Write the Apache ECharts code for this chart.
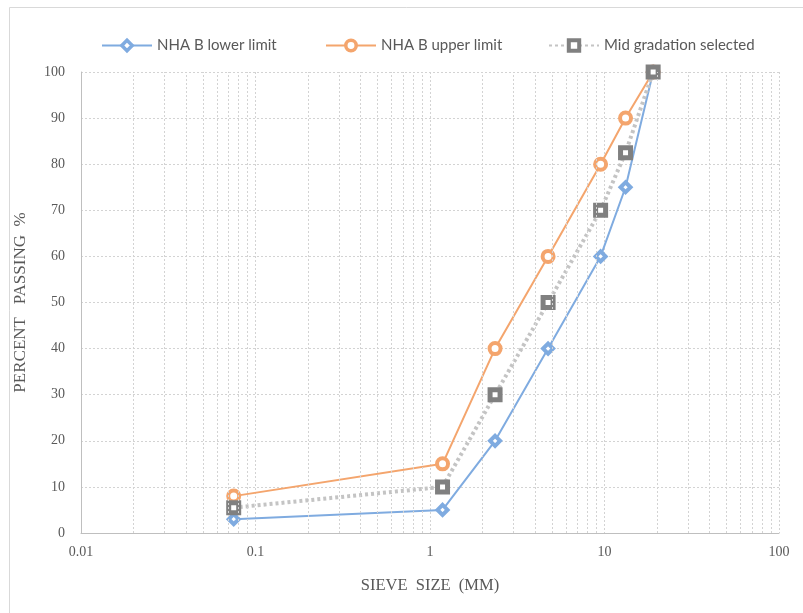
<!DOCTYPE html>
<html>
<head>
<meta charset="utf-8">
<script src="https://cdn.jsdelivr.net/npm/echarts@6/dist/echarts.min.js"></script>
<style>
  html, body { margin: 0; padding: 0; background: #fff; }
  #chart { width: 803px; height: 613px; }
</style>
</head>
<body>
<div id="chart"></div>
<script>
// Sieve sizes (mm) and percent passing for the NHA B gradation envelope
const sieveSizes = [0.075, 1.18, 2.36, 4.75, 9.5, 13.2, 19];
const lowerLimit = [3, 5, 20, 40, 60, 75, 100];
const upperLimit = [8, 15, 40, 60, 80, 90, 100];
const midGradation = [5.5, 10, 30, 50, 70, 82.5, 100];
const seriesNames = ['NHA B lower limit', 'NHA B upper limit', 'Mid gradation selected'];

// Minor log grid lines (2..9 in each decade)
const minorGridValues = [];
[0.01, 0.1, 1, 10].forEach(function (d) {
  for (let k = 2; k <= 9; k++) minorGridValues.push(+(d * k).toPrecision(3));
});

const pairs = (ys) => sieveSizes.map((x, i) => [x, ys[i]]);

const gridColor = '#d3d3d3';
const textColor = '#595959';
const serif = '"Liberation Serif", "DejaVu Serif", serif';
const sans = 'Lato, "Liberation Sans", Arial, sans-serif';

const blue = '#7fabe0';
const orange = '#f4a56d';
const grayLine = '#c4c4c4';
const grayMark = '#808080';

const chart = echarts.init(document.getElementById('chart'), null, { renderer: 'canvas' });

const legendBase = {
  top: 33,
  itemWidth: 50,
  itemHeight: 13,
  itemGap: 0,
  textStyle: { fontFamily: sans, fontSize: 15, color: textColor }
};

function legendItem(name, color, borderWidth) {
  return {
    name: name,
    itemStyle: { color: '#ffffff', borderColor: color, borderWidth: borderWidth }
  };
}

chart.setOption({
  backgroundColor: '#ffffff',
  animation: false,
  graphic: [{
    type: 'rect',
    shape: { x: 9.5, y: 7.5, width: 820, height: 640 },
    style: { fill: 'none', stroke: '#d9d9d9', lineWidth: 1 },
    silent: true
  }],
  legend: [
    Object.assign({}, legendBase, { left: 96, data: [legendItem(seriesNames[0], blue, 3.5)] }),
    Object.assign({}, legendBase, { left: 320, data: [legendItem(seriesNames[1], orange, 3.5)] }),
    Object.assign({}, legendBase, { left: 543, data: [legendItem(seriesNames[2], grayMark, 4)] })
  ],
  grid: { left: 81, right: 24, top: 72, bottom: 80, containLabel: false },
  xAxis: {
    type: 'log',
    logBase: 10,
    min: 0.01,
    max: 100,
    name: 'SIEVE  SIZE  (MM)',
    nameLocation: 'middle',
    nameGap: 44,
    nameTextStyle: { fontFamily: serif, fontSize: 16.5, color: textColor },
    axisLine: { show: true, lineStyle: { color: '#bfbfbf', width: 1 } },
    axisTick: { show: false },
    axisLabel: {
      fontFamily: serif, fontSize: 14, color: textColor, margin: 12,
      formatter: function (v) { return String(+v.toPrecision(3)); }
    },
    splitLine: { show: true, lineStyle: { color: gridColor, type: [2, 2], width: 1 } }
  },
  yAxis: {
    type: 'value',
    min: 0,
    max: 100,
    interval: 10,
    name: 'PERCENT   PASSING  %',
    nameLocation: 'middle',
    nameGap: 52,
    nameTextStyle: { fontFamily: serif, fontSize: 17, color: textColor },
    axisLine: { show: true, lineStyle: { color: '#bfbfbf', width: 1 } },
    axisTick: { show: false },
    axisLabel: { fontFamily: serif, fontSize: 14, color: textColor, margin: 16 },
    splitLine: { show: true, lineStyle: { color: gridColor, type: [2, 2], width: 1 } }
  },
  series: [
    {
      // carries the minor log grid lines
      type: 'line',
      data: [],
      silent: true,
      markLine: {
        silent: true,
        symbol: 'none',
        label: { show: false },
        lineStyle: { color: gridColor, type: [2, 2], width: 1 },
        emphasis: { disabled: true },
        data: minorGridValues.map(v => ({ xAxis: v }))
      },
      z: 1
    },
    {
      name: seriesNames[0],
      type: 'line',
      data: pairs(lowerLimit),
      symbol: 'diamond',
      symbolSize: 10,
      lineStyle: { color: blue, width: 2 },
      itemStyle: { color: '#ffffff', borderColor: blue, borderWidth: 4 },
      z: 3
    },
    {
      name: seriesNames[1],
      type: 'line',
      data: pairs(upperLimit),
      symbol: 'circle',
      symbolSize: 11,
      lineStyle: { color: orange, width: 2 },
      itemStyle: { color: '#ffffff', borderColor: orange, borderWidth: 4 },
      z: 3
    },
    {
      name: seriesNames[2],
      type: 'line',
      data: pairs(midGradation),
      symbol: 'rect',
      symbolSize: 10,
      lineStyle: { color: grayLine, width: 4, type: [3, 3], cap: 'butt' },
      itemStyle: { color: '#ffffff', borderColor: grayMark, borderWidth: 5 },
      z: 4
    }
  ]
});
</script>
</body>
</html>
